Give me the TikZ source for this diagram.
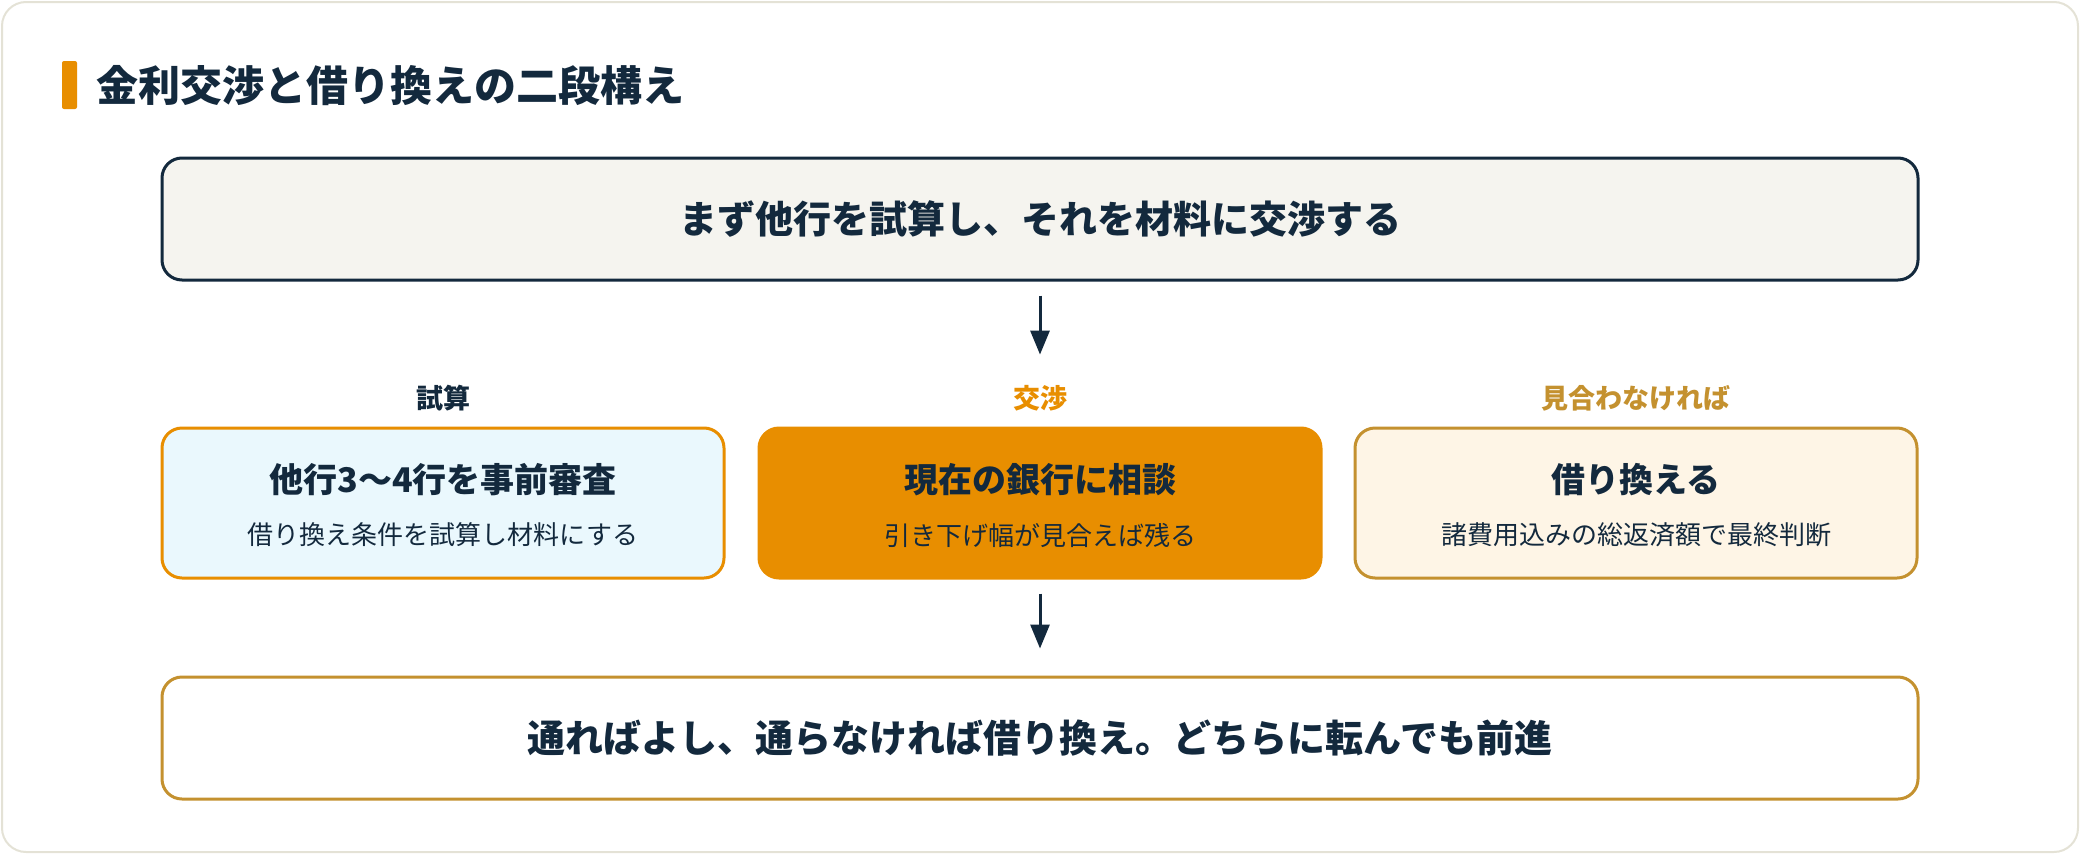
\documentclass[tikz,border=0pt]{standalone}
\usepackage{fontspec}
\setmainfont{Noto Sans CJK JP}
\usetikzlibrary{arrows.meta,positioning}

\definecolor{navy}{HTML}{13293D}
\definecolor{accent}{HTML}{E88E00}
\definecolor{gold}{HTML}{C4912F}
\definecolor{paper}{HTML}{F5F4EF}
\definecolor{skyfill}{HTML}{EAF8FD}
\definecolor{creamfill}{HTML}{FEF5E6}
\definecolor{frameline}{HTML}{E4E2D6}

\begin{document}
\begin{tikzpicture}[x=1pt,y=-1pt,
  wide/.style={rounded corners=20pt,minimum width=1756pt,minimum height=122pt,line width=3pt},
  card/.style={rounded corners=20pt,minimum width=562pt,minimum height=150pt,line width=3pt},
  bigtext/.style={text=navy,font=\bfseries\fontsize{38}{45}\selectfont},
  cardhead/.style={text=navy,font=\bfseries\fontsize{34}{40}\selectfont},
  cardsub/.style={text=navy,font=\fontsize{26}{31}\selectfont},
  tag/.style={font=\bfseries\fontsize{27}{32}\selectfont},
  flow/.style={navy,line width=3pt,-{Triangle[length=24pt,width=19pt]}}]

% frame and title
\draw[frameline,line width=2pt,fill=white,rounded corners=24pt] (2,2) rectangle (2078,852);
\useasboundingbox (0,0) rectangle (2080,854);
\fill[accent,rounded corners=2pt] (62,61) rectangle (77,109);
\node[anchor=west,text=navy,font=\bfseries\fontsize{42}{49}\selectfont] (title) at (93,86) {金利交渉と借り換えの二段構え};

% top step
\node[wide,draw=navy,fill=paper] (top) at (1040,219) {};
\node[bigtext] (toptext) at (top.center) {まず他行を試算し、それを材料に交渉する};

% three options
\node[card,draw=accent,fill=skyfill] (trial) at (443,503) {};
\node[card,draw=accent,fill=accent] (nego) at (1040,503) {};
\node[card,draw=gold,fill=creamfill] (switch) at (1636,503) {};

\node[tag,text=navy] (trialtag) at (443,398) {試算};
\node[tag,text=accent] (negotag) at (1040,398) {交渉};
\node[tag,text=gold] (switchtag) at (1636,398) {見合わなければ};

\node[cardhead] (trialhead) at ([yshift=23pt]trial.center) {他行3〜4行を事前審査};
\node[cardsub] (trialsub) at ([yshift=-32pt]trial.center) {借り換え条件を試算し材料にする};
\node[cardhead] (negohead) at ([yshift=23pt]nego.center) {現在の銀行に相談};
\node[cardsub] (negosub) at ([yshift=-32pt]nego.center) {引き下げ幅が見合えば残る};
\node[cardhead] (switchhead) at ([yshift=23pt]switch.center) {借り換える};
\node[cardsub] (switchsub) at ([yshift=-32pt]switch.center) {諸費用込みの総返済額で最終判断};

% result
\node[wide,draw=gold,fill=white] (result) at (1040,738) {};
\node[bigtext] (resulttext) at (result.center) {通ればよし、通らなければ借り換え。どちらに転んでも前進};

% arrows
\draw[flow,shorten <=14pt,shorten >=27pt] (top.south) -- (negotag.north);
\draw[flow,shorten <=14pt,shorten >=27pt] (nego.south) -- (result.north);
\end{tikzpicture}
\end{document}
